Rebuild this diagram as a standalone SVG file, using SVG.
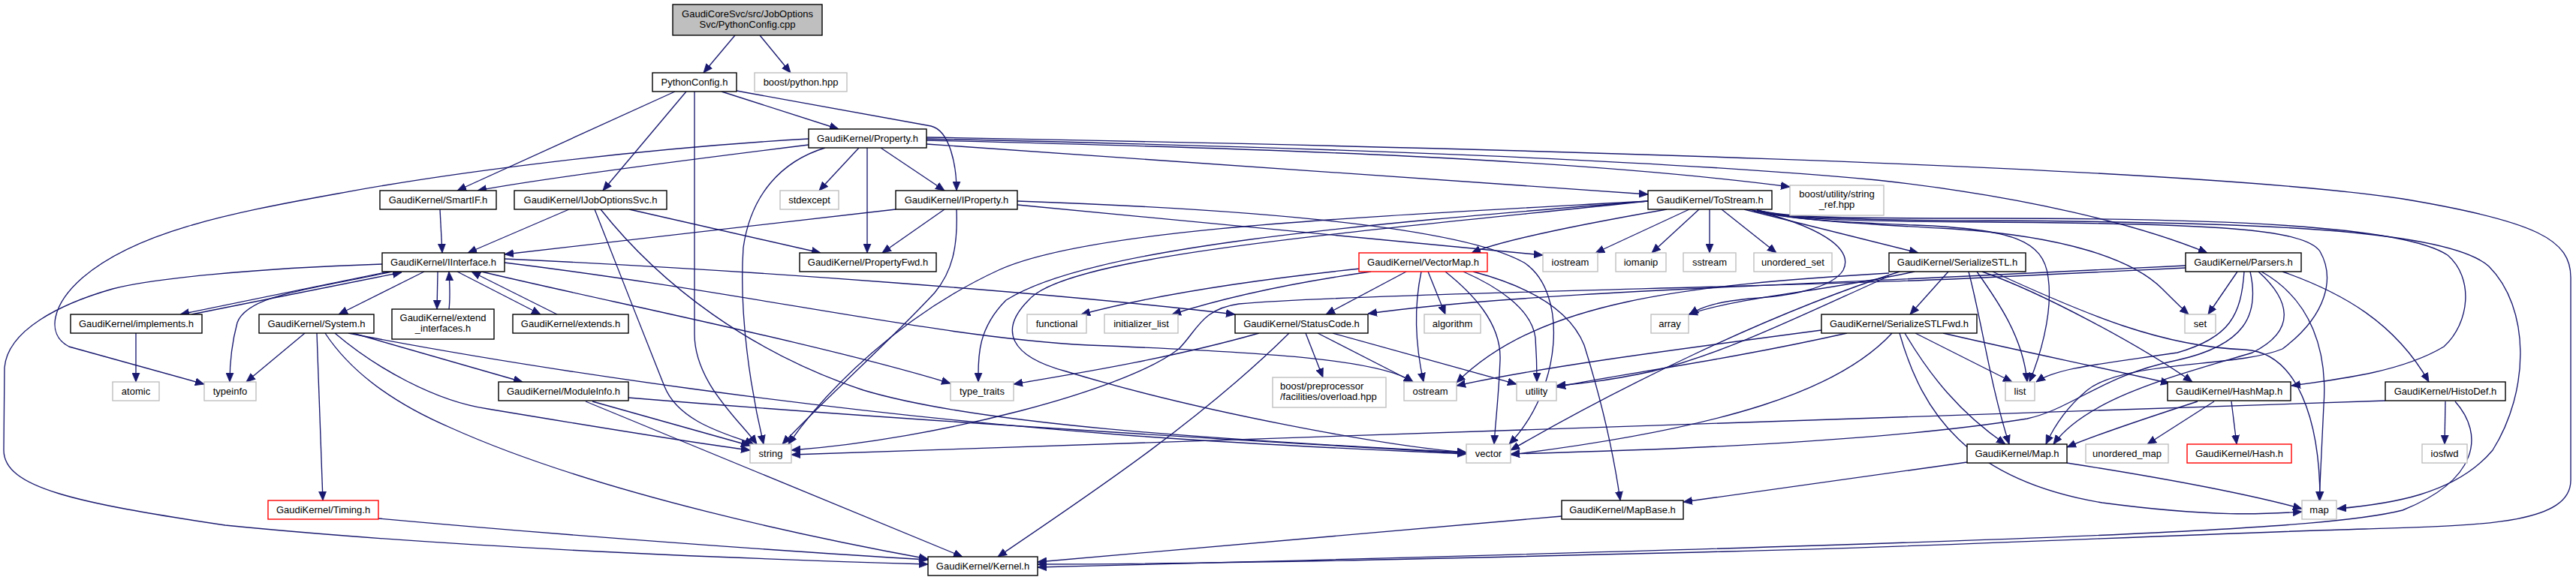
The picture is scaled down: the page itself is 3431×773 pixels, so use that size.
<svg xmlns="http://www.w3.org/2000/svg" width="3431" height="773" viewBox="0 0 3431 773">
<defs>
<marker id="ah" markerUnits="userSpaceOnUse" markerWidth="13" markerHeight="11" refX="12" refY="5.5" orient="auto" viewBox="0 0 13 11"><path d="M0,0.5 L12,5.5 L0,10.5 z" fill="#191970" stroke="#191970" stroke-width="0.8"/></marker>
<style>
.n rect{fill:#fff;stroke:#000;stroke-width:1.4}
.x rect{stroke:#bfbfbf}
.t rect{stroke:#f00}
.top rect{fill:#bfbfbf}
text{font-family:"Liberation Sans",Arial,Helvetica,sans-serif;font-size:13px;fill:#000;text-anchor:middle}
#edges path{fill:none;stroke:#191970;stroke-width:1.35;marker-end:url(#ah)}
</style>
</defs>
<rect width="3431" height="773" fill="#fff"/>
<g id="edges">
<path d="M979,47 L937,97"/>
<path d="M1012,47 L1053,97"/>
<path d="M899,122 L609,254"/>
<path d="M914,122 L803,254"/>
<path d="M925,122 L925,445 C925,510 985,560 1008,592"/>
<path d="M961,122 L1117,172"/>
<path d="M981,121 L1240,168 C1265,174 1274,220 1274,254"/>
<path d="M1077,193 C900,215 720,238 636,254"/>
<path d="M1077,185 C850,198 600,230 450,258 C300,285 180,310 110,370 C70,405 60,445 92,462 L272,512"/>
<path d="M1144,197 L1091,254"/>
<path d="M1155,197 L1155,337"/>
<path d="M1173,197 L1258,254"/>
<path d="M1099,197 C1040,215 1000,260 990,330 C984,420 1000,520 1017,592"/>
<path d="M1234,192 L2195,259"/>
<path d="M1234,187 C1700,198 2100,212 2384,249"/>
<path d="M1234,185 C1700,195 2200,212 2500,240 C2700,262 2850,300 2940,337"/>
<path d="M1234,183 C1900,195 2900,220 3200,265 C3380,295 3424,320 3424,370 L3424,640 C3424,700 3300,700 3150,705 C2900,712 2600,728 2300,735 C1900,745 1600,752 1382,752"/>
<path d="M758,279 L623,337"/>
<path d="M838,279 L1093,337"/>
<path d="M792,279 C820,350 855,440 885,515 C905,565 975,580 1004,592"/>
<path d="M800,279 C880,380 1000,470 1150,520 C1300,565 1600,585 1953,603"/>
<path d="M1193,279 L672,339"/>
<path d="M1258,279 L1175,337"/>
<path d="M1274,279 C1276,330 1268,362 1245,390 C1180,460 1100,530 1042,592"/>
<path d="M1355,273 L2055,340"/>
<path d="M1355,268 C1700,280 1950,305 2030,350 C2090,390 2080,520 2010,592"/>
<path d="M586,279 L589,337"/>
<path d="M509,352 C330,358 200,372 150,385 C80,405 10,440 6,490 L5,600 C5,650 100,670 300,700 C600,730 1000,745 1236,752"/>
<path d="M565,362 L451,419"/>
<path d="M522,362 C420,385 330,392 316,430 C308,460 306,490 306,509"/>
<path d="M518,362 L240,419"/>
<path d="M255,419 L535,363"/>
<path d="M583,362 L582,412"/>
<path d="M598,412 C600,395 599,380 598,362"/>
<path d="M609,362 L720,419"/>
<path d="M742,419 L628,362"/>
<path d="M672,345 C1000,360 1400,390 1645,419"/>
<path d="M672,350 C1000,390 1250,450 1450,460 C1700,470 1840,480 1882,509"/>
<path d="M641,362 C800,400 1100,460 1266,511"/>
<path d="M181,444 L181,509"/>
<path d="M406,444 L328,509"/>
<path d="M422,444 L430,667"/>
<path d="M433,444 C470,500 530,540 600,570 C800,660 1100,720 1236,745"/>
<path d="M446,444 C500,490 580,535 650,545 C800,570 920,590 999,600"/>
<path d="M470,444 L696,509"/>
<path d="M464,444 C700,490 1100,550 1500,580 C1700,595 1850,600 1953,605"/>
<path d="M780,535 L1282,742"/>
<path d="M789,535 L999,594"/>
<path d="M837,530 C1200,560 1700,590 1953,604"/>
<path d="M504,691 C800,718 1100,738 1236,746"/>
<path d="M1677,444 C1550,480 1420,500 1350,512"/>
<path d="M1717,444 C1600,560 1450,660 1329,742"/>
<path d="M1739,444 L1762,503"/>
<path d="M1755,444 L1882,509"/>
<path d="M1775,444 L2020,512"/>
<path d="M1812,358 C1650,375 1530,395 1440,419"/>
<path d="M1826,362 C1700,380 1620,400 1561,419"/>
<path d="M1873,362 L1766,419"/>
<path d="M1893,362 C1885,400 1883,450 1896,509"/>
<path d="M1902,362 L1925,419"/>
<path d="M1925,362 C1960,390 2000,430 1998,480 C1996,530 1992,560 1990,592"/>
<path d="M1949,362 C1990,380 2040,410 2045,450 C2047,480 2047,495 2047,509"/>
<path d="M1962,362 C2030,380 2090,410 2110,460 C2135,540 2150,610 2158,667"/>
<path d="M2220,279 C2100,300 2000,320 1960,337"/>
<path d="M2250,279 L2125,337"/>
<path d="M2263,279 L2200,337"/>
<path d="M2277,279 L2277,337"/>
<path d="M2293,279 L2366,337"/>
<path d="M2323,279 L2555,337"/>
<path d="M2330,279 C2420,300 2470,330 2455,360 C2440,385 2380,395 2330,398 C2290,402 2268,408 2250,419"/>
<path d="M2336,281 C2380,292 2450,296 2550,300 C2680,305 2722,320 2728,370 C2735,420 2715,480 2703,509"/>
<path d="M2195,268 C1800,290 1450,305 1330,360 C1200,420 1100,520 1050,592"/>
<path d="M2195,268 C1800,300 1450,330 1340,400 C1300,440 1303,480 1303,509"/>
<path d="M2195,268 C1800,310 1420,340 1370,400 C1330,440 1345,475 1420,495 C1600,550 1850,595 1953,603"/>
<path d="M2340,280 C2380,292 2450,297 2600,305 C2750,315 2840,345 2880,385 C2895,400 2905,410 2915,419"/>
<path d="M2340,280 C2380,290 2450,291 2650,291 C2950,291 3200,300 3260,340 C3295,370 3290,430 3255,462 C3200,495 3120,505 3052,514"/>
<path d="M2340,280 C2380,291 2450,293 2650,294 C3000,296 3260,305 3315,355 C3370,410 3370,520 3320,600 C3270,660 3180,672 3113,678"/>
<path d="M2340,280 C2380,292 2450,295 2650,296 C2950,298 3070,305 3090,335 C3110,370 3100,420 3040,465 C2980,490 2830,480 2780,520 C2750,545 2735,570 2725,592"/>
<path d="M2516,364 C2250,380 2050,400 1940,510"/>
<path d="M2516,368 C2400,420 2300,470 2200,495 C2140,508 2100,512 2073,514"/>
<path d="M2530,362 C2350,420 2150,520 2012,600"/>
<path d="M2550,362 C2420,390 2320,395 2249,419"/>
<path d="M2595,362 L2544,419"/>
<path d="M2633,362 C2660,400 2695,450 2700,509"/>
<path d="M2622,362 C2640,430 2650,510 2676,592"/>
<path d="M2640,362 C2720,390 2850,460 2920,509"/>
<path d="M2654,362 C2780,420 2880,462 2990,466 C3060,470 3090,560 3090,667"/>
<path d="M2426,440 C2200,470 2050,490 1940,514"/>
<path d="M2460,444 C2300,480 2150,500 2073,516"/>
<path d="M2520,444 C2450,520 2300,570 2012,606"/>
<path d="M2530,444 C2560,550 2620,640 2800,670 C2950,690 3020,685 3066,682"/>
<path d="M2537,444 C2570,500 2610,550 2671,592"/>
<path d="M2551,444 L2680,509"/>
<path d="M2588,444 C2700,470 2800,490 2890,511"/>
<path d="M2927,535 C2850,560 2790,580 2753,596"/>
<path d="M2949,535 L2860,592"/>
<path d="M2972,535 L2979,592"/>
<path d="M2620,616 L2242,669"/>
<path d="M2753,617 C2900,640 3000,660 3066,678"/>
<path d="M2080,688 L1382,749"/>
<path d="M3177,534 C2800,550 2000,580 1054,606"/>
<path d="M3257,535 L3256,592"/>
<path d="M3270,535 C3310,580 3300,640 3200,680 C3100,705 2800,720 1382,756"/>
<path d="M2980,362 L2941,419"/>
<path d="M2989,362 C2985,420 2970,450 2900,470 C2800,485 2740,490 2712,509"/>
<path d="M2997,362 C3010,420 2990,460 2900,480 C2800,500 2760,545 2700,558 C2500,590 2200,600 2012,605"/>
<path d="M3008,362 C3050,400 3060,440 3000,470 C2900,500 2780,530 2735,592"/>
<path d="M3012,362 C3080,400 3100,470 3095,540 C3092,600 3090,640 3089,667"/>
<path d="M3040,362 C3120,390 3190,430 3235,509"/>
<path d="M2911,354 L2600,369 C2300,383 2000,393 1822,418"/>
<path d="M2911,357 L2600,372 C2300,384 1800,392 1650,405 C1600,412 1595,440 1570,465 C1500,520 1250,585 1054,600"/>
</g>
<g id="n_PythonConfig_cpp" class="n top"><rect x="896" y="6" width="199" height="41"/><text x="995.5" y="23">GaudiCoreSvc/src/JobOptions</text><text x="995.5" y="37">Svc/PythonConfig.cpp</text></g>
<g id="n_PythonConfig_h" class="n"><rect x="869" y="97" width="112" height="25"/><text x="925" y="114">PythonConfig.h</text></g>
<g id="n_boost_python" class="n x"><rect x="1005" y="97" width="123" height="25"/><text x="1066.5" y="114">boost/python.hpp</text></g>
<g id="n_Property" class="n"><rect x="1077" y="172" width="157" height="25"/><text x="1155.5" y="189">GaudiKernel/Property.h</text></g>
<g id="n_SmartIF" class="n"><rect x="506" y="254" width="155" height="25"/><text x="583.5" y="271">GaudiKernel/SmartIF.h</text></g>
<g id="n_IJobOptionsSvc" class="n"><rect x="685" y="254" width="203" height="25"/><text x="786.5" y="271">GaudiKernel/IJobOptionsSvc.h</text></g>
<g id="n_stdexcept" class="n x"><rect x="1039" y="254" width="78" height="25"/><text x="1078" y="271">stdexcept</text></g>
<g id="n_IProperty" class="n"><rect x="1193" y="254" width="162" height="25"/><text x="1274" y="271">GaudiKernel/IProperty.h</text></g>
<g id="n_ToStream" class="n"><rect x="2195" y="254" width="165" height="25"/><text x="2277.5" y="271">GaudiKernel/ToStream.h</text></g>
<g id="n_string_ref" class="n x"><rect x="2384" y="247" width="125" height="40"/><text x="2446.5" y="263">boost/utility/string</text><text x="2446.5" y="277">_ref.hpp</text></g>
<g id="n_IInterface" class="n"><rect x="509" y="337" width="163" height="25"/><text x="590.5" y="354">GaudiKernel/IInterface.h</text></g>
<g id="n_PropertyFwd" class="n"><rect x="1065" y="337" width="182" height="25"/><text x="1156" y="354">GaudiKernel/PropertyFwd.h</text></g>
<g id="n_VectorMap" class="n t"><rect x="1810" y="337" width="171" height="25"/><text x="1895.5" y="354">GaudiKernel/VectorMap.h</text></g>
<g id="n_iostream" class="n x"><rect x="2055" y="337" width="73" height="25"/><text x="2091.5" y="354">iostream</text></g>
<g id="n_iomanip" class="n x"><rect x="2152" y="337" width="67" height="25"/><text x="2185.5" y="354">iomanip</text></g>
<g id="n_sstream" class="n x"><rect x="2242" y="337" width="70" height="25"/><text x="2277" y="354">sstream</text></g>
<g id="n_unordered_set" class="n x"><rect x="2336" y="337" width="104" height="25"/><text x="2388" y="354">unordered_set</text></g>
<g id="n_SerializeSTL" class="n"><rect x="2516" y="337" width="182" height="25"/><text x="2607" y="354">GaudiKernel/SerializeSTL.h</text></g>
<g id="n_Parsers" class="n"><rect x="2911" y="337" width="154" height="25"/><text x="2988" y="354">GaudiKernel/Parsers.h</text></g>
<g id="n_implements" class="n"><rect x="94" y="419" width="175" height="25"/><text x="181.5" y="436">GaudiKernel/implements.h</text></g>
<g id="n_System" class="n"><rect x="345" y="419" width="153" height="25"/><text x="421.5" y="436">GaudiKernel/System.h</text></g>
<g id="n_extend_interfaces" class="n"><rect x="522" y="412" width="136" height="40"/><text x="590" y="428">GaudiKernel/extend</text><text x="590" y="442">_interfaces.h</text></g>
<g id="n_extends" class="n"><rect x="683" y="419" width="154" height="25"/><text x="760" y="436">GaudiKernel/extends.h</text></g>
<g id="n_functional" class="n x"><rect x="1368" y="419" width="79" height="25"/><text x="1407.5" y="436">functional</text></g>
<g id="n_initializer_list" class="n x"><rect x="1471" y="419" width="98" height="25"/><text x="1520" y="436">initializer_list</text></g>
<g id="n_StatusCode" class="n"><rect x="1645" y="419" width="177" height="25"/><text x="1733.5" y="436">GaudiKernel/StatusCode.h</text></g>
<g id="n_algorithm" class="n x"><rect x="1897" y="419" width="75" height="25"/><text x="1934.5" y="436">algorithm</text></g>
<g id="n_array" class="n x"><rect x="2199" y="419" width="50" height="25"/><text x="2224" y="436">array</text></g>
<g id="n_SerializeSTLFwd" class="n"><rect x="2426" y="419" width="207" height="25"/><text x="2529.5" y="436">GaudiKernel/SerializeSTLFwd.h</text></g>
<g id="n_set" class="n x"><rect x="2910" y="419" width="41" height="25"/><text x="2930.5" y="436">set</text></g>
<g id="n_atomic" class="n x"><rect x="150" y="509" width="62" height="25"/><text x="181" y="526">atomic</text></g>
<g id="n_typeinfo" class="n x"><rect x="272" y="509" width="69" height="25"/><text x="306.5" y="526">typeinfo</text></g>
<g id="n_ModuleInfo" class="n"><rect x="664" y="509" width="173" height="25"/><text x="750.5" y="526">GaudiKernel/ModuleInfo.h</text></g>
<g id="n_type_traits" class="n x"><rect x="1266" y="509" width="84" height="25"/><text x="1308" y="526">type_traits</text></g>
<g id="n_overload" class="n x"><rect x="1695" y="503" width="151" height="40"/><text x="1705" y="519" style="text-anchor:start">boost/preprocessor</text><text x="1705" y="533" style="text-anchor:start">/facilities/overload.hpp</text></g>
<g id="n_ostream" class="n x"><rect x="1870" y="509" width="70" height="25"/><text x="1905" y="526">ostream</text></g>
<g id="n_utility" class="n x"><rect x="2020" y="509" width="53" height="25"/><text x="2046.5" y="526">utility</text></g>
<g id="n_list" class="n x"><rect x="2671" y="509" width="39" height="25"/><text x="2690.5" y="526">list</text></g>
<g id="n_HashMap" class="n"><rect x="2887" y="509" width="164" height="25"/><text x="2969" y="526">GaudiKernel/HashMap.h</text></g>
<g id="n_HistoDef" class="n"><rect x="3177" y="509" width="160" height="25"/><text x="3257" y="526">GaudiKernel/HistoDef.h</text></g>
<g id="n_string" class="n x"><rect x="999" y="592" width="55" height="25"/><text x="1026.5" y="609">string</text></g>
<g id="n_vector" class="n x"><rect x="1953" y="592" width="59" height="25"/><text x="1982.5" y="609">vector</text></g>
<g id="n_Map" class="n"><rect x="2620" y="592" width="133" height="25"/><text x="2686.5" y="609">GaudiKernel/Map.h</text></g>
<g id="n_unordered_map" class="n x"><rect x="2778" y="592" width="110" height="25"/><text x="2833" y="609">unordered_map</text></g>
<g id="n_Hash" class="n t"><rect x="2913" y="592" width="139" height="25"/><text x="2982.5" y="609">GaudiKernel/Hash.h</text></g>
<g id="n_iosfwd" class="n x"><rect x="3226" y="592" width="60" height="25"/><text x="3256" y="609">iosfwd</text></g>
<g id="n_Timing" class="n t"><rect x="357" y="667" width="147" height="25"/><text x="430.5" y="684">GaudiKernel/Timing.h</text></g>
<g id="n_MapBase" class="n"><rect x="2080" y="667" width="162" height="25"/><text x="2161" y="684">GaudiKernel/MapBase.h</text></g>
<g id="n_map" class="n x"><rect x="3066" y="667" width="46" height="25"/><text x="3089" y="684">map</text></g>
<g id="n_Kernel" class="n"><rect x="1236" y="742" width="146" height="25"/><text x="1309" y="759">GaudiKernel/Kernel.h</text></g>
</svg>
